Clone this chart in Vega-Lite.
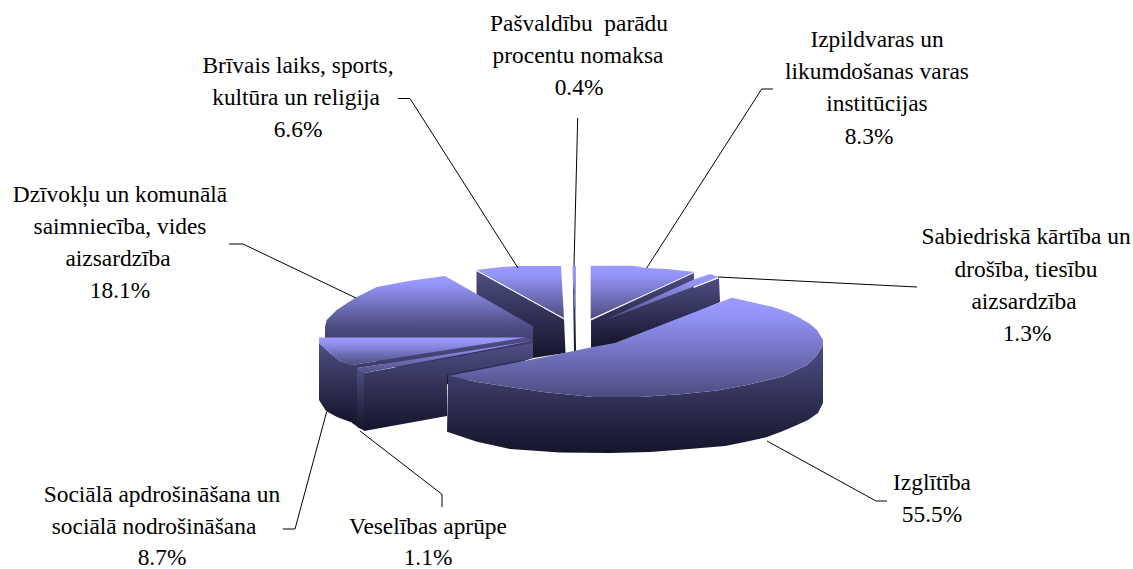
{"$schema":"https://vega.github.io/schema/vega-lite/v6.json","width":1133,"height":569,"autosize":{"type":"none"},"padding":0,"background":"white","config":{"view":{"stroke":null}},
"datasets":{
"sides":[
{"s":"briv","i":1,"x":476.5,"y":271},{"s":"briv","i":2,"x":564,"y":319},{"s":"briv","i":3,"x":565.5,"y":353},{"s":"briv","i":4,"x":533,"y":358},{"s":"briv","i":5,"x":476.5,"y":304},
{"s":"pasv","i":1,"x":572.7,"y":268},{"s":"pasv","i":2,"x":575.5,"y":318},{"s":"pasv","i":3,"x":576,"y":351},{"s":"pasv","i":4,"x":574,"y":351},
{"s":"izp","i":1,"x":591,"y":320},{"s":"izp","i":2,"x":694,"y":272.5},{"s":"izp","i":3,"x":694,"y":287},{"s":"izp","i":4,"x":640,"y":335},{"s":"izp","i":5,"x":591,"y":351},
{"s":"sab","i":1,"x":604,"y":321},{"s":"sab","i":2,"x":719,"y":278},{"s":"sab","i":3,"x":720,"y":302},{"s":"sab","i":4,"x":640,"y":338},{"s":"sab","i":5,"x":604,"y":348},
{"s":"dziv","i":1,"x":325,"y":326},{"s":"dziv","i":2,"x":533,"y":326},{"s":"dziv","i":3,"x":533,"y":358},{"s":"dziv","i":4,"x":450,"y":385},{"s":"dziv","i":5,"x":325,"y":345},
{"s":"soc","i":1,"x":319,"y":343},{"s":"soc","i":2,"x":330,"y":353},{"s":"soc","i":3,"x":340,"y":361},{"s":"soc","i":4,"x":353,"y":365},{"s":"soc","i":5,"x":353,"y":423},{"s":"soc","i":6,"x":337,"y":417},{"s":"soc","i":7,"x":326,"y":411},{"s":"soc","i":8,"x":319,"y":400},
{"s":"band","i":1,"x":352,"y":365},{"s":"band","i":2,"x":526,"y":337.5},{"s":"band","i":3,"x":533,"y":341},{"s":"band","i":4,"x":358,"y":368},{"s":"band","i":5,"x":358,"y":427},{"s":"band","i":6,"x":352,"y":423},
{"s":"vesO","i":1,"x":357,"y":368},{"s":"vesO","i":2,"x":365,"y":373},{"s":"vesO","i":3,"x":365,"y":431},{"s":"vesO","i":4,"x":357,"y":427},
{"s":"ves","i":1,"x":364,"y":373},{"s":"ves","i":2,"x":533,"y":343},{"s":"ves","i":3,"x":533,"y":358},{"s":"ves","i":4,"x":447,"y":375},{"s":"ves","i":5,"x":447,"y":416},{"s":"ves","i":6,"x":364,"y":431},
{"s":"izg","i":1,"x":448,"y":375.7},{"s":"izg","i":2,"x":477,"y":382},{"s":"izg","i":3,"x":510,"y":387},{"s":"izg","i":4,"x":543,"y":392},{"s":"izg","i":5,"x":593,"y":397},{"s":"izg","i":6,"x":640,"y":397},{"s":"izg","i":7,"x":683,"y":394},{"s":"izg","i":8,"x":717,"y":390.5},{"s":"izg","i":9,"x":747,"y":385},{"s":"izg","i":10,"x":783,"y":376.5},{"s":"izg","i":11,"x":807,"y":365},{"s":"izg","i":12,"x":817,"y":355},{"s":"izg","i":13,"x":823,"y":345},{"s":"izg","i":14,"x":823,"y":403},{"s":"izg","i":15,"x":818,"y":413},{"s":"izg","i":16,"x":808,"y":420},{"s":"izg","i":17,"x":797,"y":425},{"s":"izg","i":18,"x":783,"y":431},{"s":"izg","i":19,"x":767,"y":437},{"s":"izg","i":20,"x":745,"y":442},{"s":"izg","i":21,"x":725,"y":446},{"s":"izg","i":22,"x":683,"y":449.5},{"s":"izg","i":23,"x":650,"y":452},{"s":"izg","i":24,"x":610,"y":453},{"s":"izg","i":25,"x":560,"y":452.5},{"s":"izg","i":26,"x":510,"y":449},{"s":"izg","i":27,"x":477,"y":441.7},{"s":"izg","i":28,"x":447,"y":431.7}
],
"tops":[
{"s":"briv","i":1,"x":476,"y":270},{"s":"briv","i":2,"x":497,"y":267.5},{"s":"briv","i":3,"x":517,"y":266},{"s":"briv","i":4,"x":561,"y":266},{"s":"briv","i":5,"x":564,"y":318},
{"s":"pasv","i":1,"x":572.5,"y":266},{"s":"pasv","i":2,"x":576,"y":266},{"s":"pasv","i":3,"x":575.5,"y":318},
{"s":"izp","i":1,"x":590.7,"y":265.7},{"s":"izp","i":2,"x":633,"y":265.7},{"s":"izp","i":3,"x":646.7,"y":268},{"s":"izp","i":4,"x":667,"y":269},{"s":"izp","i":5,"x":695,"y":272},{"s":"izp","i":6,"x":590.7,"y":319},
{"s":"sab","i":1,"x":603,"y":321},{"s":"sab","i":2,"x":695,"y":279},{"s":"sab","i":3,"x":710,"y":274},{"s":"sab","i":4,"x":719,"y":277},
{"s":"dziv","i":1,"x":445,"y":276},{"s":"dziv","i":2,"x":410,"y":280.7},{"s":"dziv","i":3,"x":376.7,"y":287},{"s":"dziv","i":4,"x":355,"y":298},{"s":"dziv","i":5,"x":336.7,"y":310},{"s":"dziv","i":6,"x":326.7,"y":320},{"s":"dziv","i":7,"x":325,"y":326.7},{"s":"dziv","i":8,"x":532.7,"y":326},
{"s":"soc","i":1,"x":319,"y":337.5},{"s":"soc","i":2,"x":526,"y":337.5},{"s":"soc","i":3,"x":352,"y":365},{"s":"soc","i":4,"x":340,"y":361},{"s":"soc","i":5,"x":330,"y":353},{"s":"soc","i":6,"x":319,"y":343},
{"s":"ves","i":1,"x":357,"y":368},{"s":"ves","i":2,"x":532,"y":341},{"s":"ves","i":3,"x":364,"y":373},
{"s":"izg","i":1,"x":448,"y":375.7},{"s":"izg","i":2,"x":550,"y":356},{"s":"izg","i":3,"x":590,"y":347.5},{"s":"izg","i":4,"x":615,"y":343},{"s":"izg","i":5,"x":731.7,"y":297.7},{"s":"izg","i":6,"x":750,"y":301.7},{"s":"izg","i":7,"x":773,"y":307},{"s":"izg","i":8,"x":788,"y":312},{"s":"izg","i":9,"x":800,"y":318},{"s":"izg","i":10,"x":810,"y":324},{"s":"izg","i":11,"x":817,"y":330},{"s":"izg","i":12,"x":823,"y":340},{"s":"izg","i":13,"x":823,"y":345},{"s":"izg","i":14,"x":817,"y":355},{"s":"izg","i":15,"x":807,"y":365},{"s":"izg","i":16,"x":783,"y":376.5},{"s":"izg","i":17,"x":747,"y":385},{"s":"izg","i":18,"x":717,"y":390.5},{"s":"izg","i":19,"x":683,"y":394},{"s":"izg","i":20,"x":640,"y":397},{"s":"izg","i":21,"x":593,"y":397},{"s":"izg","i":22,"x":543,"y":392},{"s":"izg","i":23,"x":510,"y":387},{"s":"izg","i":24,"x":477,"y":382}
],
"edges":[
{"s":"a","i":1,"x":476.5,"y":270.5},{"s":"a","i":2,"x":564,"y":319},
{"s":"b","i":1,"x":591,"y":320},{"s":"b","i":2,"x":695,"y":272},
{"s":"c","i":1,"x":694,"y":287.5},{"s":"c","i":2,"x":718,"y":278}
],
"leaders":[
{"s":"briv","i":1,"x":398,"y":98.5},{"s":"briv","i":2,"x":410,"y":98.5},{"s":"briv","i":3,"x":518,"y":268},
{"s":"pasv","i":1,"x":577.7,"y":118},{"s":"pasv","i":2,"x":574,"y":266},
{"s":"izp","i":1,"x":773,"y":89},{"s":"izp","i":2,"x":761.7,"y":89},{"s":"izp","i":3,"x":646.7,"y":268},
{"s":"sab","i":1,"x":917,"y":287},{"s":"sab","i":2,"x":718,"y":277},
{"s":"dziv","i":1,"x":229,"y":244},{"s":"dziv","i":2,"x":243,"y":244},{"s":"dziv","i":3,"x":356,"y":298},
{"s":"izg","i":1,"x":767,"y":441},{"s":"izg","i":2,"x":876,"y":501},{"s":"izg","i":3,"x":887,"y":501},
{"s":"soc","i":1,"x":326.7,"y":411.7},{"s":"soc","i":2,"x":295,"y":529},{"s":"soc","i":3,"x":282.7,"y":529},
{"s":"ves","i":1,"x":360,"y":431},{"s":"ves","i":2,"x":442,"y":494.3},{"s":"ves","i":3,"x":442,"y":507}
],
"labels":[
{"t":"Pašvaldību\u00a0 parādu","x":579,"y":24},{"t":"procentu nomaksa","x":578,"y":56},{"t":"0.4%","x":579,"y":88},
{"t":"Izpildvaras un","x":877,"y":40},{"t":"likumdošanas varas","x":877,"y":72},{"t":"institūcijas","x":877,"y":104},{"t":"8.3%","x":869,"y":137},
{"t":"Brīvais laiks, sports,","x":298,"y":66},{"t":"kultūra un religija","x":296,"y":98},{"t":"6.6%","x":298,"y":130},
{"t":"Dzīvokļu un komunālā","x":120,"y":195},{"t":"saimniecība, vides","x":120,"y":227},{"t":"aizsardzība","x":118,"y":259},{"t":"18.1%","x":120,"y":291},
{"t":"Sabiedriskā kārtība un","x":1026,"y":237},{"t":"drošība, tiesību","x":1026,"y":270},{"t":"aizsardzība","x":1024,"y":302},{"t":"1.3%","x":1027,"y":334},
{"t":"Izglītība","x":932,"y":483},{"t":"55.5%","x":932,"y":515},
{"t":"Sociālā apdrošināšana un","x":162,"y":495},{"t":"sociālā nodrošināšana","x":154,"y":527},{"t":"8.7%","x":162,"y":558},
{"t":"Veselības aprūpe","x":428,"y":527},{"t":"1.1%","x":428,"y":558}
]},
"encoding":{
"x":{"field":"x","type":"quantitative","scale":{"domain":[0,1133],"nice":false,"zero":false},"axis":null},
"y":{"field":"y","type":"quantitative","scale":{"domain":[569,0],"nice":false,"zero":false},"axis":null}},
"layer":[
{"data":{"name":"sides"},"mark":{"type":"line","interpolate":"linear-closed","strokeWidth":0,"stroke":null,"fill":{"gradient":"linear","x1":0,"y1":0,"x2":0,"y2":1,"stops":[{"offset":0,"color":"#4e4e84"},{"offset":1,"color":"#14142a"}]}},"encoding":{"detail":{"field":"s"},"order":{"field":"i"}}},
{"data":{"name":"tops"},"mark":{"type":"line","interpolate":"linear-closed","strokeWidth":0,"stroke":null,"fill":{"gradient":"linear","x1":0,"y1":0,"x2":0,"y2":1,"stops":[{"offset":0,"color":"#9999ff"},{"offset":0.15,"color":"#9696fa"},{"offset":1,"color":"#4c4c80"}]}},"encoding":{"detail":{"field":"s"},"order":{"field":"i"}}},
{"data":{"name":"edges"},"mark":{"type":"line","color":"#ffffff","strokeWidth":1,"opacity":0.85},"encoding":{"detail":{"field":"s"},"order":{"field":"i"}}},
{"data":{"name":"leaders"},"mark":{"type":"line","color":"#000000","strokeWidth":1},"encoding":{"detail":{"field":"s"},"order":{"field":"i"}}},
{"data":{"name":"labels"},"mark":{"type":"text","font":"Liberation Serif","fontSize":23.4,"color":"#000000","align":"center","baseline":"middle"},"encoding":{"text":{"field":"t"}}}
]}
